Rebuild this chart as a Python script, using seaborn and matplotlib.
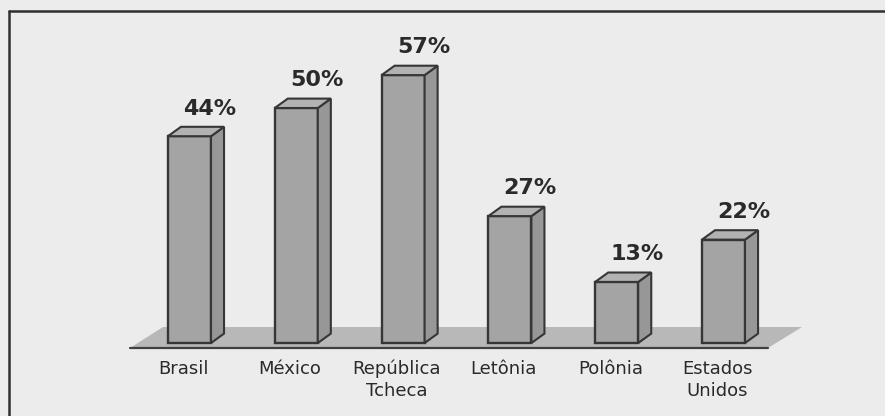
import matplotlib
matplotlib.use("Agg")
import matplotlib.pyplot as plt
from matplotlib.patches import Polygon
from matplotlib.lines import Line2D
import seaborn as sns

# Share of respondents per country
paises = ["Brasil", "México", "República\nTcheca", "Letônia", "Polônia", "Estados\nUnidos"]
valores = [44, 50, 57, 27, 13, 22]
rotulos = ["44%", "50%", "57%", "27%", "13%", "22%"]

sns.set_theme(style="white")
plt.rcParams["font.family"] = ["DejaVu Sans"]

fundo = "#ececec"
frente = "#a4a4a4"
lateral = "#979797"
topo = "#b2b2b2"
borda = "#363636"
piso = "#b8b8b8"
texto = "#2a2a2a"

fig = plt.figure(figsize=(8.85, 4.16), dpi=100, facecolor=fundo)
ax = fig.add_axes([0, 0, 1, 1])
ax.set_facecolor(fundo)

largura = 0.403
dx, dy = 0.122, 2.0

sns.barplot(x=list(range(len(valores))), y=valores, color=frente, saturation=1,
            width=largura, edgecolor=borda, linewidth=1.7, ax=ax, zorder=3)

ax.set_xlim(-1.774, 6.512)
ax.set_ylim(-15.53, 72.98)
ax.axis("off")

# floor plane under the bars
ax.add_patch(Polygon([(-0.557, -1.06), (5.416, -1.06), (5.735, 3.40), (-0.248, 3.40)],
                     closed=True, facecolor=piso, edgecolor="none", zorder=1))
ax.plot([-0.557, 5.416], [-1.06, -1.06], color="#404040", lw=1.6, zorder=2)

# side and top faces for each bar
for barra, rot in zip(ax.patches, rotulos):
    x0 = barra.get_x()
    x1 = x0 + barra.get_width()
    h = barra.get_height()
    ax.add_patch(Polygon([(x1, 0), (x1 + dx, dy), (x1 + dx, h + dy), (x1, h)],
                         closed=True, facecolor=lateral, edgecolor=borda,
                         lw=1.5, zorder=3.5))
    ax.add_patch(Polygon([(x0, h), (x0 + dx, h + dy), (x1 + dx, h + dy), (x1, h)],
                         closed=True, facecolor=topo, edgecolor=borda,
                         lw=1.5, zorder=3.5))
    cx = x0 + barra.get_width() / 2
    ax.text(cx + 0.19, h + 4.6, rot, ha="center", va="baseline",
            fontsize=16, fontweight="bold", color=texto, zorder=5)

for i, nome in enumerate(paises):
    ax.text(i - 0.06, -3.6, nome, ha="center", va="top", fontsize=13,
            color=texto, linespacing=1.28, zorder=5)

# frame lines along the top and left edges
fig.add_artist(Line2D([9 / 885, 9 / 885], [0, 1 - 11 / 416], transform=fig.transFigure,
                      color="#303030", lw=1.8))
fig.add_artist(Line2D([9 / 885, 1], [1 - 11 / 416, 1 - 11 / 416], transform=fig.transFigure,
                      color="#303030", lw=1.8))

fig.savefig("out.png", dpi=100, facecolor=fundo)
